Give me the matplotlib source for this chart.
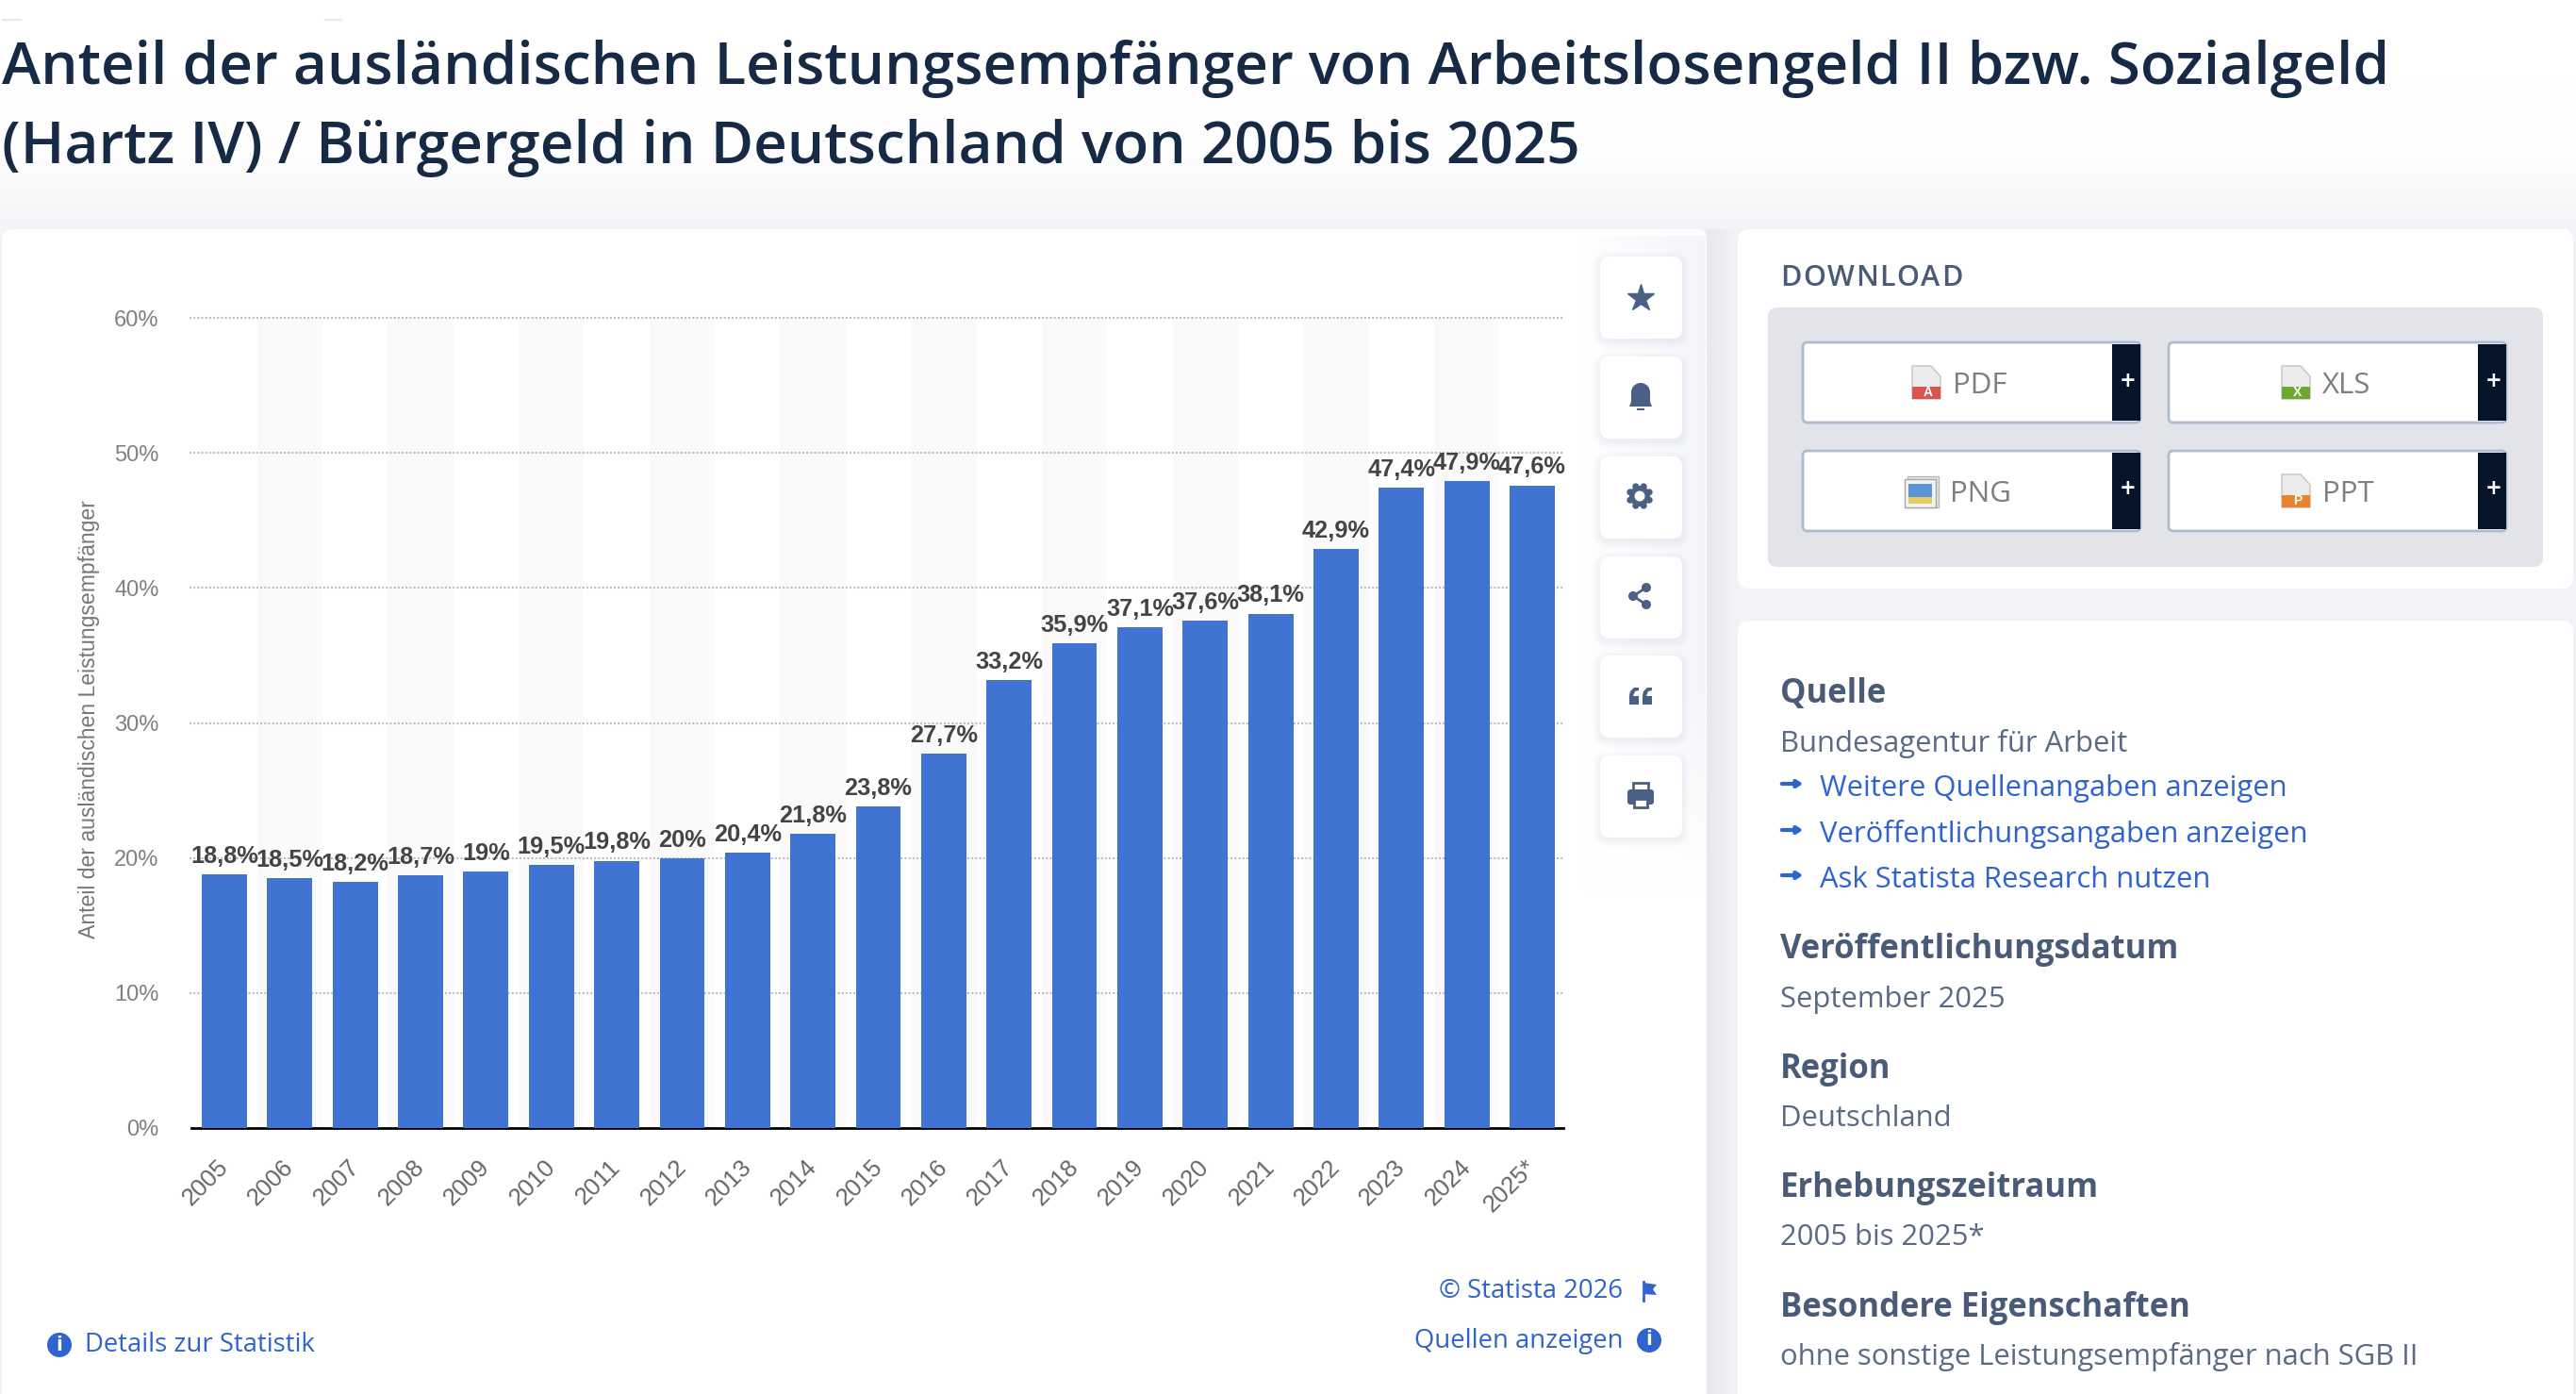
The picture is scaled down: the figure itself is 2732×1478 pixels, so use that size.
import matplotlib
matplotlib.use("Agg")
import numpy as np
import matplotlib.pyplot as plt
from matplotlib.colors import LinearSegmentedColormap, to_rgb
from matplotlib.patches import FancyBboxPatch, Rectangle, Circle, Polygon

W, H = 2732, 1478

years = ['2005', '2006', '2007', '2008', '2009', '2010', '2011', '2012', '2013', '2014', '2015',
         '2016', '2017', '2018', '2019', '2020', '2021', '2022', '2023', '2024', '2025*']
values = [18.8, 18.5, 18.2, 18.7, 19, 19.5, 19.8, 20, 20.4, 21.8, 23.8,
          27.7, 33.2, 35.9, 37.1, 37.6, 38.1, 42.9, 47.4, 47.9, 47.6]
y_ticks = [0, 10, 20, 30, 40, 50, 60]

title_lines = ['Anteil der ausländischen Leistungsempfänger von Arbeitslosengeld II bzw. Sozialgeld',
               '(Hartz IV) / Bürgergeld in Deutschland von 2005 bis 2025']
download_labels = ['PDF', 'XLS', 'PNG', 'PPT']
download_colors = ['#d9534f', '#6fa82f', '#e8c860', '#e8842c']
download_marks = ['A', 'X', '', 'P']
side_headings = ['Quelle', 'Veröffentlichungsdatum', 'Region', 'Erhebungszeitraum', 'Besondere Eigenschaften']
side_values = ['Bundesagentur für Arbeit', 'September 2025', 'Deutschland', '2005 bis 2025*',
               'ohne sonstige Leistungsempfänger nach SGB II']
side_links = ['Weitere Quellenangaben anzeigen', 'Veröffentlichungsangaben anzeigen', 'Ask Statista Research nutzen']

BLUE = '#4073d2'
LINK = '#2f63cf'
HEAD = '#4a5b78'
BODY = '#5b6a84'
ICON = '#4a6085'
NAVY = '#051428'
UI_FONT = 'Open Sans'
CHART_FONT = 'Liberation Sans'

fig = plt.figure(figsize=(W / 100, H / 100), dpi=100)

# page layer in pixel coordinates
bg = fig.add_axes([0, 0, 1, 1])
bg.axis('off')

grad = np.linspace(0, 1, 256).reshape(-1, 1)
page = LinearSegmentedColormap.from_list('page', ['#ffffff', '#ffffff', '#fefefe', '#f3f4f7'])
bg.imshow(grad, extent=[0, W, 243, 0], aspect='auto', cmap=page, zorder=0)
bg.add_patch(Rectangle((0, 243), W, H - 243, fc='#f2f3f6', ec='none', zorder=0))


def box(x0, y0, x1, y1, fc='white', r=12, ec='none', lw=0, z=1, **kw):
    p = FancyBboxPatch((x0 + r, y0 + r), x1 - x0 - 2 * r, y1 - y0 - 2 * r,
                       boxstyle='round,pad=%d,rounding_size=%d' % (r, r),
                       fc=fc, ec=ec, lw=lw, zorder=z, **kw)
    bg.add_patch(p)
    return p


def ui(x, y, s, size=22.3, color=BODY, weight='normal', ha='left', **kw):
    return bg.text(x, y, s, fontsize=size, color=color, fontweight=weight, ha=ha, va='center',
                   family=UI_FONT, zorder=6, **kw)


# top cut off breadcrumb
ui(6, -8.5, 'Gesellschaft  ›  Soziales', size=24, color='#8a97b5')
bg.plot([3, 22], [21, 21], color='#e6e8ee', lw=1.5, zorder=1)
bg.plot([345, 362], [21, 21], color='#e6e8ee', lw=1.5, zorder=1)

for line, y in zip(title_lines, [72.5, 157]):
    ui(2, y, line, size=44.7, color='#162a45', weight=600)

# shadow in the gutter next to the chart panel
gutter = LinearSegmentedColormap.from_list('gutter', ['#e8e9ee', '#f3f4f7'])
bg.imshow(np.linspace(0, 1, 64).reshape(1, -1), extent=[1810, 1843, H, 243], aspect='auto', cmap=gutter, zorder=0.5)

# panels
box(2, 243, 1810, H + 40, r=12)
box(1843, 243, 2729, 624, r=12)
box(1843, 658, 2729, H + 40, r=12)

# faint tint behind the icon column
tint = np.zeros((64, 64, 4))
tint[..., :3] = to_rgb('#f3f5f9')
tint[..., 3] = np.linspace(0, 1, 64)[None, :] * np.clip(np.linspace(3.0, 0, 64), 0, 1)[:, None]
bg.imshow(tint, extent=[1670, 1809, 960, 250], aspect='auto', zorder=1.5)

# download block
dx = 1888
rend = fig.canvas.get_renderer()
for ch in 'DOWNLOAD':
    t = ui(dx, 295, ch, size=22, color=HEAD, weight=600)
    dx += t.get_window_extent(rend).width + 1.6
box(1875, 326, 2697, 601, fc='#e2e4e9', r=10, z=2)
btn_x = [1912, 2300, 1912, 2300]
btn_y = [363, 363, 478, 478]
icon_dx = [116, 120, 108, 120]
text_dx = [159, 163, 156, 163]
for lab, col, mark, x0, y0, idx, tdx in zip(download_labels, download_colors, download_marks, btn_x, btn_y,
                                            icon_dx, text_dx):
    box(x0, y0, x0 + 358, y0 + 85, fc='white', ec='#aebbd0', lw=2, r=5, z=3)
    bg.add_patch(Rectangle((x0 + 328, y0 + 2), 30, 81, fc=NAVY, ec='none', zorder=4))
    bg.text(x0 + 345, y0 + 42, '+', color='white', fontsize=20, fontweight=600, ha='center', va='center',
            family=UI_FONT, zorder=5)
    ix = x0 + idx
    if mark:
        bg.add_patch(Polygon([(ix, y0 + 25), (ix + 20, y0 + 25), (ix + 30, y0 + 36), (ix + 30, y0 + 60), (ix, y0 + 60)],
                             fc='#ececec', ec='#c4c4c4', lw=1, zorder=5))
        bg.add_patch(Rectangle((ix, y0 + 47), 30, 13, fc=col, ec='none', zorder=5))
        bg.text(ix + 17, y0 + 53, mark, color='white', fontsize=10, fontweight='bold', ha='center', va='center',
                family=CHART_FONT, zorder=6)
    else:
        bg.add_patch(Rectangle((ix + 3, y0 + 27), 33, 33, fc='#e4e4e4', ec='#b8b8b8', lw=1, zorder=5))
        bg.add_patch(Rectangle((ix, y0 + 30), 33, 30, fc='#f2f2f2', ec='#a8a8a8', lw=1, zorder=5))
        bg.add_patch(Rectangle((ix + 4, y0 + 35), 25, 14, fc='#5b94d6', ec='none', zorder=6))
        bg.add_patch(Rectangle((ix + 4, y0 + 49), 25, 7, fc=col, ec='none', zorder=6))
    ui(x0 + tdx, y0 + 46, lab, size=22.5, color='#7d7f84')

# round icon buttons
icon_y = [272, 378, 484, 590, 695, 801]
for y0 in icon_y:
    for grow in [7, 5, 3, 1]:
        box(1697 - grow, y0 - grow + 3, 1784 + grow, y0 + 87 + grow + 3, fc='#c4c9d6', r=10 + grow, z=2, alpha=0.05)
    box(1697, y0, 1784, y0 + 87, r=10, z=2.5)
cx = 1740
bg.plot([cx], [316], marker='*', ms=21, color=ICON, mec=ICON, mew=1, zorder=5)
# bell
bg.add_patch(Circle((cx, 416), 10, fc=ICON, ec='none', zorder=5))
bg.add_patch(Rectangle((cx - 10, 416), 20, 12, fc=ICON, ec='none', zorder=5))
bg.add_patch(Polygon([(cx - 10, 426), (cx + 10, 426), (cx + 12, 431), (cx - 12, 431)], fc=ICON, ec='none', zorder=5))
bg.add_patch(Rectangle((cx - 4, 433), 8, 2, fc=ICON, ec='none', zorder=5))
# gear
gx, gy = 1739, 526
bg.add_patch(Circle((gx, gy), 11, fc=ICON, ec='none', zorder=5))
for a in np.arange(8) * np.pi / 4 + np.pi / 8:
    bg.add_patch(Circle((gx + 11 * np.cos(a), gy + 11 * np.sin(a)), 3.5, fc=ICON, ec='none', zorder=5))
bg.add_patch(Circle((gx, gy), 5.5, fc='white', ec='none', zorder=6))
# share
share_x = [1746, 1732, 1746]
share_y = [623, 632, 641]
for px, py in zip(share_x, share_y):
    bg.add_patch(Circle((px, py), 5, fc=ICON, ec='none', zorder=5))
bg.plot(share_x, share_y, color=ICON, lw=2, zorder=5)
# quote
for qx in [1728, 1742]:
    bg.add_patch(Polygon([(qx, 747), (qx, 737), (qx + 1, 733), (qx + 5, 729), (qx + 10, 729), (qx + 10, 732),
                          (qx + 6, 733), (qx + 4, 738), (qx + 10, 738), (qx + 10, 747)], fc=ICON, ec='none', zorder=5))
# print
bg.add_patch(Rectangle((1732, 830), 16, 9, fc='white', ec=ICON, lw=2, zorder=5))
bg.add_patch(FancyBboxPatch((1728, 839), 24, 12, boxstyle='round,pad=2,rounding_size=3', fc=ICON, ec='none', zorder=5))
bg.add_patch(Rectangle((1733, 847), 14, 9, fc='white', ec=ICON, lw=2, zorder=6))

# right hand info column
head_y = [736, 1007, 1134, 1260, 1387]
val_y = [788, 1060, 1186, 1312, 1439]
link_y = [836, 885, 933]
for s, y in zip(side_headings, head_y):
    ui(1888, y, s, size=24.9, color=HEAD, weight='bold')
for s, y in zip(side_values, val_y):
    ui(1888, y, s, size=22.3, color=BODY)
for s, y in zip(side_links, link_y):
    ui(1930, y, s, size=22.3, color=LINK)
    bg.annotate('', xy=(1915, y - 5), xytext=(1887, y - 5), zorder=6,
                arrowprops=dict(arrowstyle='-|>,head_width=0.22,head_length=0.35', color=LINK, lw=3))

# footer links
ui(1721, 1369, '© Statista 2026', size=19.8, color=LINK, ha='right')
ui(1721, 1422, 'Quellen anzeigen', size=19.8, color=LINK, ha='right')
ui(90, 1426, 'Details zur Statistik', size=19.8, color=LINK)
for x, y in [(63, 1426), (1749, 1421)]:
    bg.add_patch(Circle((x, y), 13, fc=LINK, ec='none', zorder=6))
    bg.text(x, y, 'i', color='white', fontsize=16, fontweight='bold', ha='center', va='center', family=UI_FONT, zorder=7)
bg.plot([1743, 1743], [1359, 1379], color=LINK, lw=2, zorder=6)
bg.add_patch(Polygon([(1743, 1360), (1757, 1362), (1753, 1367), (1757, 1373), (1743, 1372)], fc=LINK, ec='none', zorder=6))

bg.set_xlim(0, W)
bg.set_ylim(H, 0)

# the chart itself
left, right = 203.3, 1659.7
top, bottom = 337.0, 1196.0
ax = fig.add_axes([left / W, 1 - bottom / H, (right - left) / W, (bottom - top) / H])
ax.patch.set_alpha(0)
x = np.arange(len(years))

for i in x[1::2]:
    ax.axvspan(i - 0.5, i + 0.5, fc='#fafafb', ec='none', zorder=0)
ax.bar(x, values, width=0.69, color=BLUE, zorder=3)
ax.set_xlim(-0.5, len(years) - 0.5)
ax.set_ylim(0, 60)
ax.set_yticks(y_ticks)
ax.set_yticklabels(['%d%%' % v for v in y_ticks], fontsize=17, color='#808080', family=CHART_FONT)
ax.set_xticks(x)
ax.set_xticklabels([])
for xi, year in zip(x, years):
    ax.annotate(year, xy=(xi, 0), xytext=(0.3, -27), textcoords='offset points', rotation=45, ha='right',
                va='center', rotation_mode='anchor', fontsize=18.5, color='#666666', family=CHART_FONT,
                annotation_clip=False)
ax.tick_params(axis='both', length=0)
ax.tick_params(axis='y', pad=25)
ax.hlines(y_ticks[1:], -0.53, len(years) - 0.53, color='#bdbdbd', linestyle=(0, (1, 1)), lw=1.5, zorder=1, clip_on=False)
for s in ['top', 'left', 'right']:
    ax.spines[s].set_visible(False)
ax.spines['bottom'].set_color('#000000')
ax.spines['bottom'].set_linewidth(2)
ax.spines['bottom'].set_bounds(-0.5, len(years) - 0.53)
ax.set_ylabel('Anteil der ausländischen Leistungsempfänger', fontsize=16.6, color='#777777', family=CHART_FONT)
ax.yaxis.set_label_coords((106 - left) / (right - left), (bottom - 763) / (bottom - top))

for xi, v in zip(x, values):
    ax.text(xi, v + 0.5, ('%g%%' % v).replace('.', ','), ha='center', va='bottom', fontsize=18.3,
            fontweight='bold', color='#444444', family=CHART_FONT, zorder=5, clip_on=False)

fig.savefig('out.png', dpi=100)
